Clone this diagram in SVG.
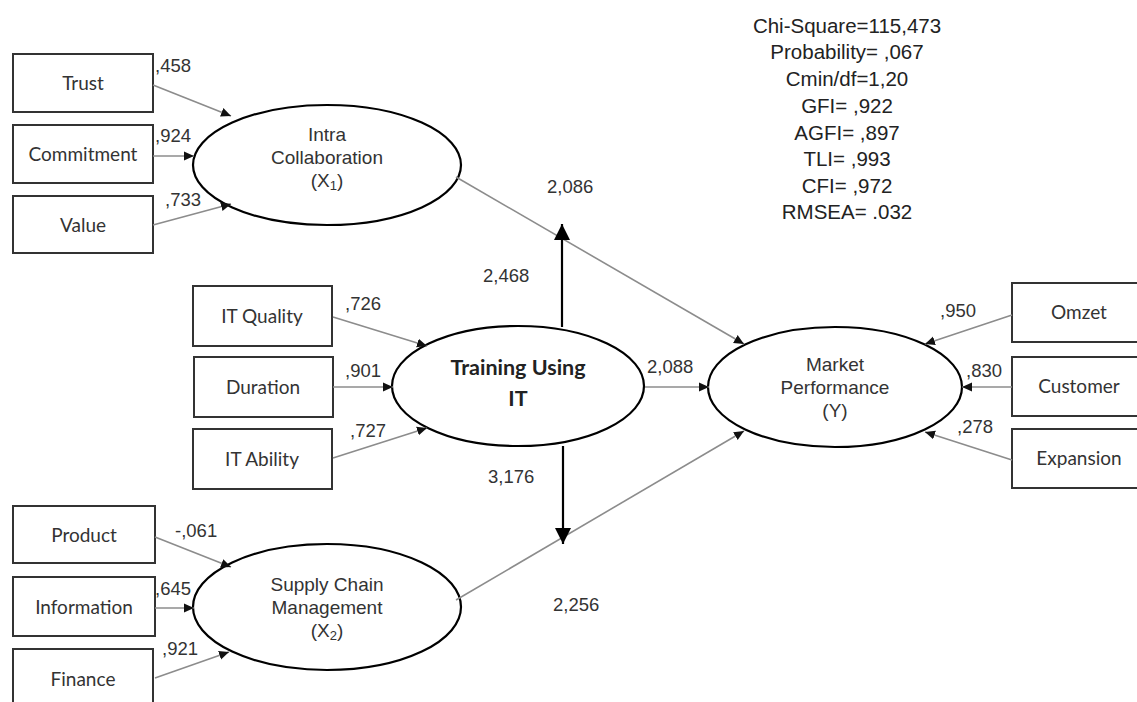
<svg xmlns="http://www.w3.org/2000/svg" width="1137" height="702" viewBox="0 0 1137 702">
<defs>
<marker id="ah" markerWidth="10" markerHeight="10" refX="10" refY="5" orient="auto" markerUnits="userSpaceOnUse"><path d="M0,0.5 L10,5 L0,9.5 Z" fill="#111"/></marker>
<marker id="big" markerWidth="16" markerHeight="16" refX="16" refY="8" orient="auto" markerUnits="userSpaceOnUse"><path d="M0,0 L16,8 L0,16 Z" fill="#000"/></marker>
</defs>
<style>
.box{fill:#fff;stroke:#333;stroke-width:2}
.ell{fill:#fff;stroke:#000;stroke-width:2.2}
.bl{font-family:Lato,"Open Sans",sans-serif;font-size:19px;fill:#333;text-anchor:middle}
.tb{font-family:Lato,"Open Sans",sans-serif;font-size:21.5px;font-weight:bold;fill:#222;text-anchor:middle}
.el{font-family:"Liberation Sans",Arial,sans-serif;font-size:19px;fill:#333;text-anchor:middle}
.num{font-family:"Liberation Sans",Arial,sans-serif;font-size:18.5px;fill:#333}
.st{font-family:"Liberation Sans",Arial,sans-serif;font-size:20.5px;fill:#222;text-anchor:middle}
.ln{stroke:#8c8c8c;stroke-width:1.6;fill:none;marker-end:url(#ah)}
.vk{stroke:#000;stroke-width:2.2;fill:none;marker-end:url(#big)}
</style>
<rect width="1137" height="702" fill="#fff"/>
<g id="trust"><rect class="box" x="13" y="54" width="140" height="58"/><text class="bl" x="83" y="90">Trust</text></g>
<g id="commitment"><rect class="box" x="13" y="125" width="140" height="58"/><text class="bl" x="83" y="161">Commitment</text></g>
<g id="value"><rect class="box" x="13" y="196" width="140" height="57"/><text class="bl" x="83" y="232">Value</text></g>
<g id="intra"><ellipse class="ell" cx="327" cy="165" rx="134" ry="60"/><text class="el" x="327" y="141">Intra</text><text class="el" x="327" y="164">Collaboration</text><text class="el" x="327" y="187">(X<tspan font-size="13" dy="3">1</tspan><tspan dy="-3">)</tspan></text></g>
<g id="itquality"><rect class="box" x="193" y="286" width="139" height="60"/><text class="bl" x="262" y="323">IT Quality</text></g>
<g id="duration"><rect class="box" x="194" y="357" width="139" height="60"/><text class="bl" x="263" y="394">Duration</text></g>
<g id="itability"><rect class="box" x="193" y="429" width="139" height="60"/><text class="bl" x="262" y="466">IT Ability</text></g>
<g id="training"><ellipse class="ell" cx="518" cy="386" rx="126" ry="60"/><text class="tb" x="518" y="375">Training Using</text><text class="tb" x="518" y="406">IT</text></g>
<g id="product"><rect class="box" x="13" y="506" width="142" height="57"/><text class="bl" x="84" y="542">Product</text></g>
<g id="information"><rect class="box" x="13" y="577" width="142" height="59"/><text class="bl" x="84" y="614">Information</text></g>
<g id="finance"><rect class="box" x="13" y="649" width="140" height="70"/><text class="bl" x="83" y="686">Finance</text></g>
<g id="scm"><ellipse class="ell" cx="327" cy="607" rx="134" ry="63"/><text class="el" x="327" y="591">Supply Chain</text><text class="el" x="327" y="614">Management</text><text class="el" x="327" y="637">(X<tspan font-size="13" dy="3">2</tspan><tspan dy="-3">)</tspan></text></g>
<g id="market"><ellipse class="ell" cx="835" cy="387" rx="127" ry="60"/><text class="el" x="835" y="371">Market</text><text class="el" x="835" y="394">Performance</text><text class="el" x="835" y="417">(Y)</text></g>
<g id="omzet"><rect class="box" x="1012" y="283" width="140" height="59"/><text class="bl" x="1079" y="319">Omzet</text></g>
<g id="customer"><rect class="box" x="1012" y="357" width="140" height="59"/><text class="bl" x="1079" y="393">Customer</text></g>
<g id="expansion"><rect class="box" x="1012" y="429" width="140" height="59"/><text class="bl" x="1079" y="465">Expansion</text></g>
<g id="connectors">
<line class="ln" x1="153" y1="85" x2="231" y2="116"/>
<line class="ln" x1="153" y1="156" x2="194" y2="156"/>
<line class="ln" x1="153" y1="225" x2="231" y2="204"/>
<line class="ln" x1="333" y1="317" x2="427" y2="346"/>
<line class="ln" x1="333" y1="387" x2="393" y2="387"/>
<line class="ln" x1="333" y1="458" x2="427" y2="428"/>
<line class="ln" x1="155" y1="537" x2="231" y2="567"/>
<line class="ln" x1="155" y1="608" x2="194" y2="608"/>
<line class="ln" x1="155" y1="678" x2="229" y2="652"/>
<line class="ln" x1="1012" y1="315" x2="925" y2="344"/>
<line class="ln" x1="1012" y1="387" x2="962" y2="387"/>
<line class="ln" x1="1012" y1="460" x2="925" y2="432"/>
<line class="ln" x1="456" y1="177" x2="744" y2="344"/>
<line class="ln" x1="456" y1="600" x2="744" y2="431"/>
<line class="ln" x1="645" y1="387" x2="709" y2="387"/>
<line class="vk" x1="562" y1="327" x2="562" y2="224"/>
<line class="vk" x1="563" y1="446" x2="563" y2="544"/>
</g>
<g id="labels">
<text class="num" x="155" y="72">,458</text>
<text class="num" x="155" y="142">,924</text>
<text class="num" x="165" y="206">,733</text>
<text class="num" x="345" y="310">,726</text>
<text class="num" x="345" y="377">,901</text>
<text class="num" x="350" y="437">,727</text>
<text class="num" x="175" y="537">-,061</text>
<text class="num" x="155" y="595">,645</text>
<text class="num" x="162" y="655">,921</text>
<text class="num" x="940" y="317">,950</text>
<text class="num" x="966" y="377">,830</text>
<text class="num" x="957" y="433">,278</text>
<text class="num" x="547" y="193">2,086</text>
<text class="num" x="483" y="282">2,468</text>
<text class="num" x="647" y="373">2,088</text>
<text class="num" x="488" y="483">3,176</text>
<text class="num" x="553" y="611">2,256</text>
</g>
<g id="stats">
<text class="st" x="847" y="33">Chi-Square=115,473</text>
<text class="st" x="847" y="59">Probability= ,067</text>
<text class="st" x="847" y="86">Cmin/df=1,20</text>
<text class="st" x="847" y="113">GFI= ,922</text>
<text class="st" x="847" y="140">AGFI= ,897</text>
<text class="st" x="847" y="166">TLI= ,993</text>
<text class="st" x="847" y="193">CFI= ,972</text>
<text class="st" x="847" y="219">RMSEA= .032</text>
</g>
</svg>
